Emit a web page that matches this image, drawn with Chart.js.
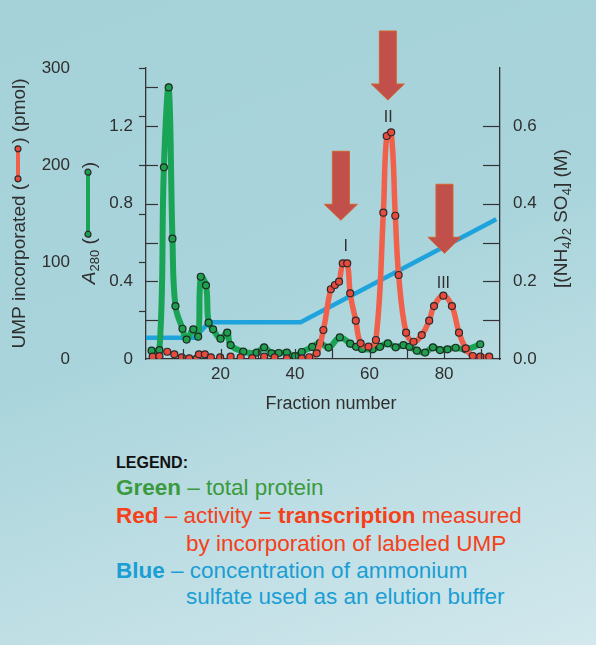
<!DOCTYPE html>
<html><head><meta charset="utf-8">
<script src="https://cdn.jsdelivr.net/npm/chart.js@4/dist/chart.umd.min.js"></script>
<style>
html,body{margin:0;padding:0;width:596px;height:645px;overflow:hidden;}
body{background:linear-gradient(160deg,#a5d1d8 0%,#a9d4db 45%,#d2e8ed 100%);font-family:"Liberation Sans",Arial,sans-serif;position:relative;}
#wrap{position:absolute;left:0;top:0;width:596px;height:425px;}
.ln{position:absolute;white-space:nowrap;font-size:22.5px;line-height:27px;}
</style></head><body>
<div id="wrap"><canvas id="c"></canvas></div>
<div class="ln" style="left:116px;top:453px;font-size:16px;line-height:20px;font-weight:bold;color:#111">LEGEND:</div>
<div class="ln" style="left:116px;top:474px;color:#3a9a3c"><b>Green</b> – total protein</div>
<div class="ln" style="left:116px;top:502px;color:#f5401a"><b>Red</b> – activity = <b>transcription</b> measured</div>
<div class="ln" style="left:186px;top:530px;color:#f5401a">by incorporation of labeled UMP</div>
<div class="ln" style="left:116px;top:557px;color:#1a9ed4"><b>Blue</b> – concentration of ammonium</div>
<div class="ln" style="left:186px;top:583px;color:#1a9ed4">sulfate used as an elution buffer</div>
<script>
// ---- data ----
const proteinFraction = [1.5, 3.6, 4.8, 6.1, 7.1, 7.9, 9.8, 10.9, 12.7, 14.0, 14.7, 16.1, 16.8, 18.0, 20.0, 21.8, 22.7, 26.1, 29.7, 31.7, 33.7, 35.6, 37.8, 40.0, 41.8, 44.6, 46.7, 49.0, 52.0, 54.8, 56.4, 58.0, 60.8, 62.8, 64.9, 67.0, 69.1, 70.7, 72.7, 74.9, 77.0, 78.9, 80.9, 83.1, 85.8, 89.7];
const proteinA280 = [0.043, 0.046, 0.988, 1.40, 0.62, 0.273, 0.156, 0.10, 0.153, 0.115, 0.424, 0.38, 0.187, 0.153, 0.105, 0.136, 0.072, 0.038, 0.033, 0.06, 0.029, 0.031, 0.033, 0.015, 0.036, 0.062, 0.083, 0.059, 0.111, 0.079, 0.063, 0.052, 0.05, 0.063, 0.081, 0.06, 0.072, 0.063, 0.043, 0.033, 0.06, 0.046, 0.05, 0.058, 0.05, 0.076];
const activityFraction = [1.8, 3.6, 5.7, 7.6, 9.6, 11.6, 13.6, 14.2, 15.8, 17.4, 19.9, 22.7, 25.4, 28.5, 31.7, 34.5, 37.8, 41.8, 43.8, 45.8, 47.6, 49.6, 50.7, 51.8, 52.8, 54.0, 54.8, 56.3, 57.6, 59.7, 61.7, 63.7, 64.6, 65.8, 66.9, 67.8, 69.8, 71.8, 74.0, 76.0, 77.3, 79.8, 82.1, 84.0, 85.8, 87.7, 89.7, 92.1];
const activityUMP = [2.4, 3, 7.5, 4.8, 1.7, 0.7, 0.3, 4.8, 4.8, 1.7, 1.7, 2.4, 1.7, 1, 2.4, 1.7, 0.7, 0.7, 1.8, 5.9, 29.9, 71.9, 76.3, 79.7, 98.6, 98.6, 67.7, 39.5, 16.2, 12.7, 19.6, 150.8, 229.9, 233.7, 147.7, 86.6, 27.1, 17.8, 24.7, 39.5, 54.6, 65.3, 54.6, 27.1, 11, 3.1, 2.4, 2.4];
const saltFraction = [0, 13, 17, 41.5, 94];
const saltMolar = [0.055, 0.055, 0.095, 0.095, 0.36];

const xTickValues = [10, 20, 30, 40, 50, 60, 70, 80, 90];
const xLabelValues = [20, 40, 60, 80];
const a280TickValues = [0.2, 0.4, 0.6, 0.8, 1.0, 1.2, 1.4];
const a280LabelValues = [0, 0.4, 0.8, 1.2];
const umpTickValues = [50, 100, 150, 200, 250, 300];
const umpLabelValues = [0, 100, 200, 300];
const saltTickValues = [0.1, 0.2, 0.3, 0.4, 0.5, 0.6];
const saltLabelValues = [0, 0.2, 0.4, 0.6];

const peakNames = ['I', 'II', 'III'];
const peakArrowFraction = [52.3, 64.9, 80.1];
const peakArrowTipUMP = [143, 267, 109];
const peakLabelFraction = [53.6, 65, 79.8];
const peakLabelUMP = [116, 249, 78];

const xTitle = 'Fraction number';
const umpTitle = ['UMP incorporated (', ') (pmol)'];
const a280Title = ['A', '280', ' (', ')'];
const saltTitle = ['[(NH', '4', ')', '2', ' SO', '4', '] (M)'];

// ---- chart ----
const FAM = "'Liberation Sans', Arial, sans-serif";
Chart.defaults.font.family = FAM;
const near = (arr, v) => arr.some(a => Math.abs(a - v) < 1e-6);

function drawRuns(ctx, cx, cy, angle, runs) {
  ctx.save();
  ctx.translate(cx, cy);
  ctx.rotate(angle);
  let total = 0;
  runs.forEach(r => {
    if (r.text !== undefined) { ctx.font = r.font; r.w = ctx.measureText(r.text).width; } else r.w = r.gap;
    total += r.w;
  });
  let x = -total / 2;
  ctx.textAlign = 'left';
  ctx.textBaseline = 'alphabetic';
  runs.forEach(r => {
    if (r.text !== undefined) { ctx.font = r.font; ctx.fillStyle = r.color || '#2f2f2f'; ctx.fillText(r.text, x, r.dy); }
    else r.draw(ctx, x, r.w);
    x += r.w;
  });
  ctx.restore();
}
function symbol(lineColor, dotColor, inset) {
  return (ctx, x, w) => {
    const x0 = x + inset, x1 = x + w - inset;
    ctx.strokeStyle = lineColor; ctx.lineWidth = 4; ctx.lineCap = 'butt';
    ctx.beginPath(); ctx.moveTo(x0, 0); ctx.lineTo(x1, 0); ctx.stroke();
    [x0, x1].forEach(px => {
      ctx.beginPath(); ctx.arc(px, 0, 3, 0, Math.PI * 2);
      ctx.fillStyle = dotColor; ctx.fill();
      ctx.lineWidth = 1.2; ctx.strokeStyle = '#2b2b2b'; ctx.stroke();
      ctx.strokeStyle = lineColor; ctx.lineWidth = 4;
    });
  };
}

const decor = {
  id: 'decor',
  afterDraw(chart) {
    const ctx = chart.ctx;
    const {x, yA, yU, yM} = chart.scales;
    const area = chart.chartArea;
    ctx.save();
    ctx.strokeStyle = '#333'; ctx.lineWidth = 1.2;
    const seg = (a, b, c, d) => { ctx.beginPath(); ctx.moveTo(a, b); ctx.lineTo(c, d); ctx.stroke(); };
    xTickValues.forEach(v => { const p = Math.round(x.getPixelForValue(v)) + 0.5; seg(p, area.bottom, p, area.bottom - 10); });
    a280TickValues.forEach(v => { const p = Math.round(yA.getPixelForValue(v)) + 0.5; seg(area.left, p, area.left + 12, p); });
    umpTickValues.forEach(v => { const p = Math.round(yU.getPixelForValue(v)) + 0.5; seg(area.left - 7, p, area.left, p); });
    saltTickValues.forEach(v => { const p = Math.round(yM.getPixelForValue(v)) + 0.5; seg(area.right - 17, p, area.right, p); });

    // arrows
    peakArrowFraction.forEach((f, i) => {
      const cx = x.getPixelForValue(f), tip = yU.getPixelForValue(peakArrowTipUMP[i]);
      const sw = 17, hw = 33, hh = 16, tot = 69;
      const top = tip - tot, ht = tip - hh;
      ctx.beginPath();
      ctx.moveTo(cx - sw / 2, top); ctx.lineTo(cx + sw / 2, top); ctx.lineTo(cx + sw / 2, ht);
      ctx.lineTo(cx + hw / 2, ht); ctx.lineTo(cx, tip); ctx.lineTo(cx - hw / 2, ht); ctx.lineTo(cx - sw / 2, ht);
      ctx.closePath();
      ctx.fillStyle = '#c1504b'; ctx.fill();
      ctx.strokeStyle = '#d5622f'; ctx.lineWidth = 1; ctx.stroke();
    });
    // peak labels
    ctx.fillStyle = '#2f2f2f'; ctx.font = "16px " + FAM; ctx.textAlign = 'center'; ctx.textBaseline = 'middle';
    peakNames.forEach((n, i) => ctx.fillText(n, x.getPixelForValue(peakLabelFraction[i]), yU.getPixelForValue(peakLabelUMP[i])));

    // x title
    ctx.font = "18px " + FAM; ctx.fillStyle = '#2f2f2f';
    ctx.fillText(xTitle, 331, 404);
    ctx.restore();

    const F = "19px " + FAM, FS = "13px " + FAM, dy = 6.8;
    drawRuns(ctx, 18, 213.5, -Math.PI / 2, [
      {text: umpTitle[0], font: F, dy},
      {gap: 40, draw: symbol('#f0604b', '#e84a3e', 5)},
      {text: umpTitle[1], font: F, dy}
    ]);
    drawRuns(ctx, 88, 223, -Math.PI / 2, [
      {text: a280Title[0], font: "italic " + F, dy},
      {text: a280Title[1], font: FS, dy: dy + 4},
      {text: a280Title[2], font: F, dy},
      {gap: 70, draw: symbol('#1aa456', '#1f9e50', 4)},
      {text: a280Title[3], font: F, dy}
    ]);
    drawRuns(ctx, 560, 218.5, -Math.PI / 2, [
      {text: saltTitle[0], font: F, dy},
      {text: saltTitle[1], font: FS, dy: dy + 4},
      {text: saltTitle[2], font: F, dy},
      {text: saltTitle[3], font: FS, dy: dy + 4},
      {text: saltTitle[4], font: F, dy},
      {text: saltTitle[5], font: FS, dy: dy + 4},
      {text: saltTitle[6], font: F, dy}
    ]);
  }
};

const tickFont = {size: 17, family: FAM};
const tickColor = '#2f2f2f';
new Chart(document.getElementById('c'), {
  type: 'line',
  data: {
    datasets: [
      {
        label: 'UMP incorporated',
        data: activityFraction.map((f, i) => ({x: f, y: activityUMP[i]})),
        yAxisID: 'yU', order: 0,
        borderColor: '#f0604b', borderWidth: 5.5, tension: 0.4,
        pointRadius: 3.5, pointBackgroundColor: '#e84a3e', pointBorderColor: '#2b2b2b', pointBorderWidth: 1.2,
        segment: {borderColor: c => c.p1.parsed.x < 44 ? 'rgba(0,0,0,0)' : undefined}
      },
      {
        label: 'A280',
        data: proteinFraction.map((f, i) => ({x: f, y: proteinA280[i]})),
        yAxisID: 'yA', order: 1,
        borderColor: '#1aa456', borderWidth: 6, tension: 0.4,
        pointRadius: 3.5, pointBackgroundColor: '#1f9e50', pointBorderColor: '#1e2a22', pointBorderWidth: 1.2
      },
      {
        label: '(NH4)2SO4',
        data: saltFraction.map((f, i) => ({x: f, y: saltMolar[i]})),
        yAxisID: 'yM', order: 2,
        borderColor: '#1ea3dc', borderWidth: 4.5, tension: 0, pointRadius: 0
      }
    ]
  },
  options: {
    responsive: true, maintainAspectRatio: false, animation: false,
    layout: {padding: {left: 7, top: 68, right: 0, bottom: 10}},
    plugins: {legend: {display: false}, tooltip: {enabled: false}},
    scales: {
      x: {
        type: 'linear', position: 'bottom', min: 0, max: 95,
        grid: {display: false, drawTicks: false},
        border: {display: true, color: '#333', width: 1.3},
        ticks: {stepSize: 10, autoSkip: false, maxRotation: 0, padding: 5, color: tickColor, font: tickFont,
          callback: v => near(xLabelValues, v) ? String(v) : ''},
        afterFit: s => { s.height = 56; }
      },
      yA: {
        type: 'linear', position: 'left', weight: 0, min: 0, max: 1.5,
        grid: {display: false, drawTicks: false},
        border: {display: true, color: '#333', width: 1.3},
        ticks: {stepSize: 0.2, autoSkip: false, padding: 13, color: tickColor, font: tickFont,
          callback: v => near(a280LabelValues, v) ? (Math.abs(v) < 1e-9 ? '0' : v.toFixed(1)) : ''},
        afterFit: s => { s.width = 69; }
      },
      yU: {
        type: 'linear', position: 'left', weight: 1, min: 0, max: 300,
        grid: {display: false, drawTicks: false},
        border: {display: false},
        ticks: {stepSize: 50, autoSkip: false, padding: 7, color: tickColor, font: tickFont,
          callback: v => near(umpLabelValues, v) ? String(v) : ''},
        afterFit: s => { s.width = 70; }
      },
      yM: {
        type: 'linear', position: 'right', min: 0, max: 0.75,
        grid: {display: false, drawTicks: false},
        border: {display: true, color: '#333', width: 1.3},
        ticks: {stepSize: 0.1, autoSkip: false, padding: 13, color: tickColor, font: tickFont,
          callback: v => near(saltLabelValues, v) ? v.toFixed(1) : ''},
        afterFit: s => { s.width = 96; }
      }
    }
  },
  plugins: [decor]
});
</script>
</body></html>
